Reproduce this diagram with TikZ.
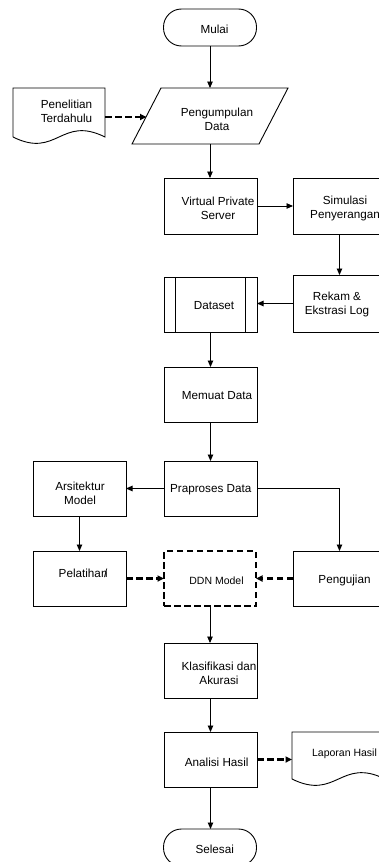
\documentclass[tikz,border=0pt]{standalone}
\usepackage{fontspec}
\setmainfont{Liberation Sans}
\usetikzlibrary{arrows.meta,calc}

\begin{document}
\begin{tikzpicture}[x=1pt,y=-1pt,
  every node/.style={inner sep=0pt, outer sep=0pt},
  lbl/.style={align=center, font=\fontsize{11.7}{14}\selectfont},
  lblsmall/.style={align=center, font=\fontsize{10.5}{13}\selectfont},
  box/.style={draw, line width=0.9pt, minimum width=93pt, minimum height=55pt},
  dbox/.style={draw, line width=2pt, dash pattern=on 6.5pt off 3.5pt, minimum width=92pt, minimum height=55pt},
  term/.style={draw, line width=0.9pt, rounded corners=18pt, minimum width=93pt, minimum height=37pt},
  flow/.style={line width=0.9pt, -{Triangle[length=6.5pt,width=5.5pt]}},
  dflow/.style={line width=2.1pt, dash pattern=on 6.5pt off 3.5pt, -{Triangle[length=6.5pt,width=6pt]}},
  shapeline/.style={line width=0.9pt},
]
\clip (0,0) rectangle (379,862);

% ---- start
\node[term] (mulai) at (210,27.5) {};
\node[lbl] (mulai-t) at (214.5,29.5) {Mulai};

% ---- data collection (parallelogram)
\node[minimum width=156pt, minimum height=56pt] (pd) at (210,116) {};
\draw[shapeline] ($(pd.north west)+(29,0)$) -- (pd.north east)
  -- ($(pd.south east)+(-29,0)$) -- (pd.south west) -- cycle;
\coordinate (pdin) at (146.5,117);
\node[lbl] (pd-t) at (217,119) {Pengumpulan\\Data};

% ---- prior research (document)
\node[minimum width=92pt, minimum height=49pt] (pen) at (59,112.5) {};
\draw[shapeline] (pen.south west) -- (pen.north west) -- (pen.north east) -- (pen.south east)
  .. controls ($(pen.south)+(2,-22)$) and ($(pen.south)+(-2,22)$) .. (pen.south west);
\node[lbl] (pen-t) at (66.5,111) {Penelitian\\Terdahulu};

% ---- server and attack simulation
\node[box, minimum height=56pt] (vps) at (210.5,206) {};
\node[lbl] (vps-t) at (218,208) {Virtual Private\\Server};
\node[box, minimum height=56pt] (sim) at (339.5,206) {};
\node[lbl] (sim-t) at (345,208) {Simulasi\\Penyerangan};

\node[box, minimum height=57pt] (rekam) at (339.5,303.5) {};
\node[lbl] (rekam-t) at (337,304) {Rekam \&\\Ekstrasi Log};

% ---- dataset (predefined process)
\node[box] (dataset) at (210.5,304.5) {};
\draw[shapeline] ($(dataset.north west)+(11.5,0)$) -- ($(dataset.south west)+(11.5,0)$);
\draw[shapeline] ($(dataset.north east)+(-11.5,0)$) -- ($(dataset.south east)+(-11.5,0)$);
\node[lbl] (dataset-t) at (214,306) {Dataset};

\node[box] (memuat) at (210.5,394.5) {};
\node[lbl] (memuat-t) at (217,396) {Memuat Data};

\node[box] (prap) at (210.5,488.5) {};
\node[lbl] (prap-t) at (210.7,490) {Praproses Data};

\node[box] (arsi) at (79.5,488.5) {};
\node[lbl] (arsi-t) at (80,493) {Arsitektur\\Model};

% ---- training / model / testing
\node[box] (pelat) at (79.5,578.5) {};
\node[lbl] (pelat-t) at (83,573) {Pelatihan\kern-3.5pt/};

\node[dbox] (ddn) at (210,578.5) {};
\node[lblsmall] (ddn-t) at (216.5,581) {DDN Model};

\node[box] (penguj) at (339.5,578.5) {};
\node[lbl] (penguj-t) at (344.5,580) {Pengujian};

\node[box] (klas) at (210.5,670.5) {};
\node[lbl] (klas-t) at (219,673) {Klasifikasi dan\\Akurasi};

\node[box] (anal) at (210.5,759.5) {};
\node[lbl] (anal-t) at (216.7,762.7) {Analisi Hasil};

% ---- report (document)
\node[minimum width=93pt, minimum height=47pt] (lap) at (338.5,755.5) {};
\draw[shapeline] (lap.south west) -- (lap.north west) -- (lap.north east) -- (lap.south east)
  .. controls ($(lap.south)+(2,-22)$) and ($(lap.south)+(-2,22)$) .. (lap.south west);
\node[lblsmall] (lap-t) at (344.5,754) {Laporan Hasil};

% ---- end
\node[term] (selesai) at (210,847.5) {};
\node[lbl] (selesai-t) at (214.7,849.3) {Selesai};

% ---- connectors
\draw[flow] (mulai.south) -- (mulai.south |- pd.north);
\draw[dflow] (pdin -| pen.east) -- (pdin);
\draw[flow] (pd.south) -- (pd.south |- vps.north);
\draw[flow] (vps.east) -- (sim.west);
\draw[flow] (sim.south) -- (rekam.north);
\draw[flow] (rekam.west) -- (rekam.west -| dataset.east);
\draw[flow] (dataset.south) -- (memuat.north);
\draw[flow] (memuat.south) -- (prap.north);
\draw[flow] (prap.west) -- (arsi.east);
\draw[flow] (prap.east) -| (penguj.north);
\draw[flow] (arsi.south) -- (pelat.north);
\draw[dflow] (pelat.east) -- (ddn.west);
\draw[dflow] (penguj.west) -- (ddn.east);
\draw[flow] (ddn.south) -- (ddn.south |- klas.north);
\draw[flow] (klas.south) -- (anal.north);
\draw[dflow] (anal.east) -- (anal.east -| lap.west);
\draw[flow] (anal.south) -- (anal.south |- selesai.north);
\end{tikzpicture}
\end{document}
